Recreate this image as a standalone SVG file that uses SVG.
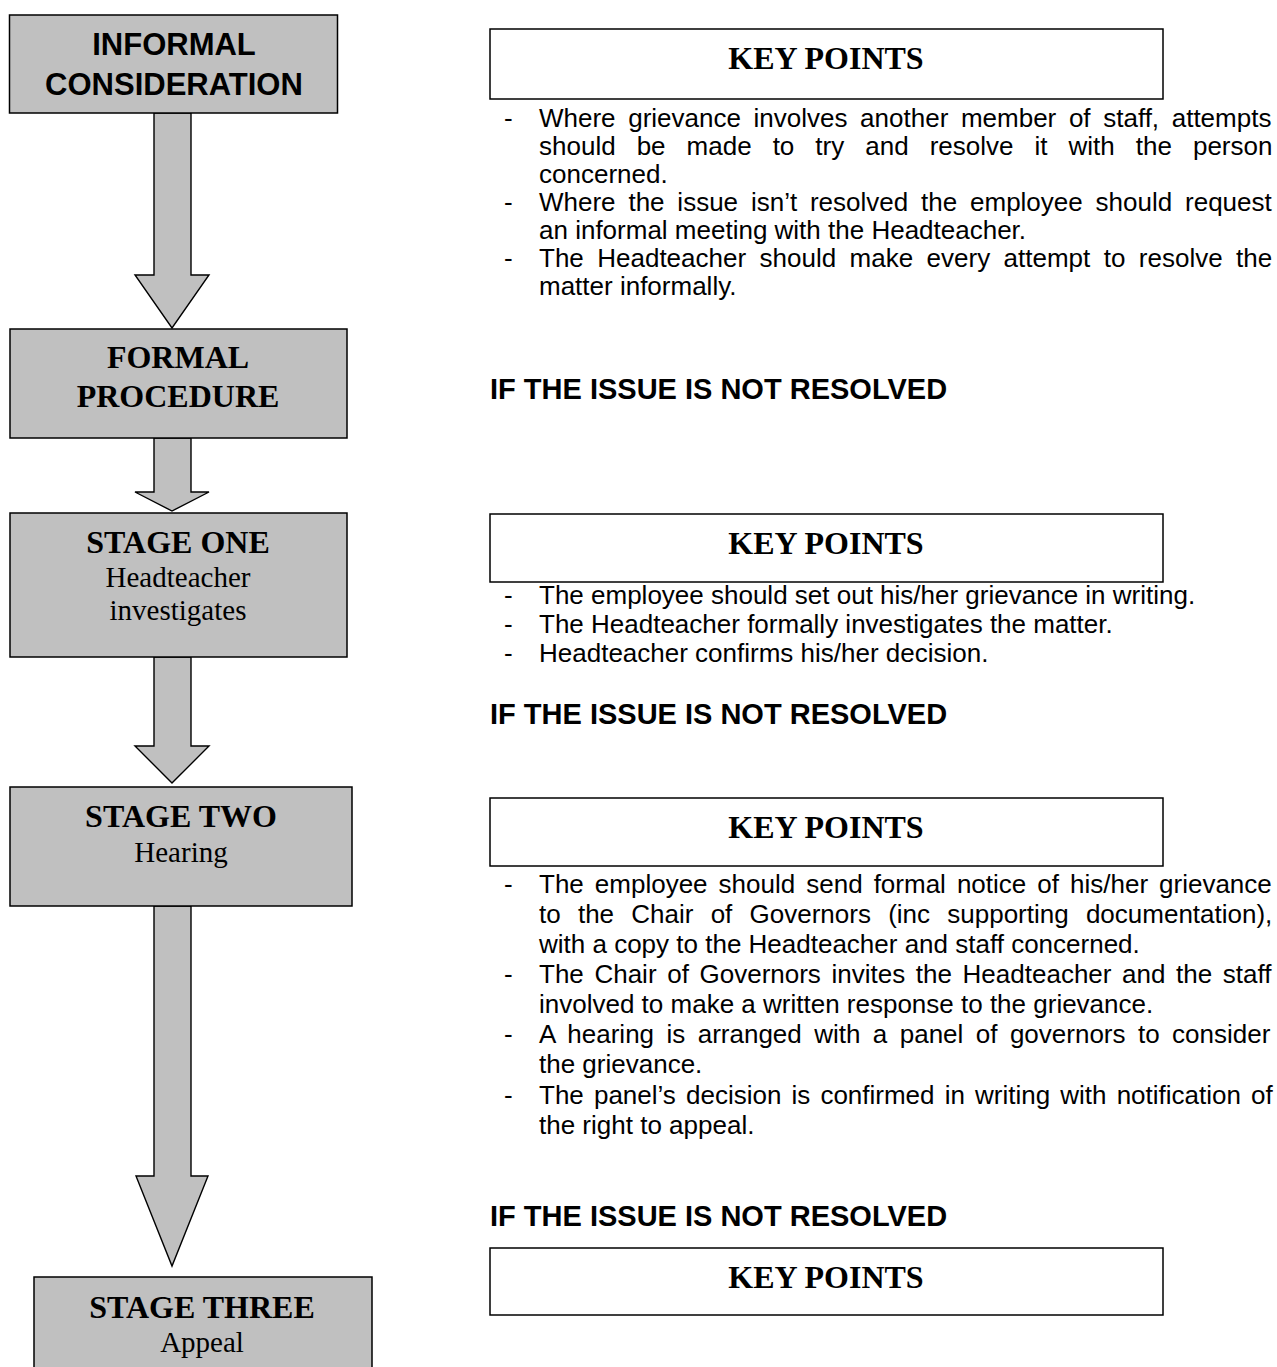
<svg xmlns="http://www.w3.org/2000/svg" width="1277" height="1367" viewBox="0 0 1277 1367">
<style>
.node{fill:#c0c0c0;stroke:#000;stroke-width:1.5}
.arrow{fill:#c0c0c0;stroke:#000;stroke-width:1.4;stroke-linejoin:miter}
.kbox{fill:#fff;stroke:#000;stroke-width:1.5}
.sans-b{font-family:"Liberation Sans",Arial,sans-serif;font-weight:bold;fill:#000}
.serif-b{font-family:"Liberation Serif","Times New Roman",serif;font-weight:bold;font-size:32px;fill:#000}
.serif{font-family:"Liberation Serif","Times New Roman",serif;font-size:29px;fill:#000}
.body{font-family:"Liberation Sans",Arial,sans-serif;font-size:26px;fill:#000}
.head{font-family:"Liberation Sans",Arial,sans-serif;font-weight:bold;font-size:29px;fill:#000}
.kp{font-family:"Liberation Serif","Times New Roman",serif;font-weight:bold;font-size:32px;fill:#000}
</style>
<rect width="1277" height="1367" fill="#fff"/>
<g id="connectors">
<path class="arrow" d="M154,113 V275 H135 L172,328 L209,275 H191 V113 Z"/>
<path class="arrow" d="M154,438 V492 H135 L172,511 L209,492 H191 V438 Z"/>
<path class="arrow" d="M154,657 V746 H135 L172,783 L209,746 H191 V657 Z"/>
<path class="arrow" d="M154,906 V1176 H136 L172,1266 L208,1176 H191 V906 Z"/>
</g>
<g id="informal">
<rect class="node" x="9.5" y="15" width="328" height="98"/>
<text class="sans-b" font-size="31" text-anchor="middle" x="174" y="55">INFORMAL</text>
<text class="sans-b" font-size="31" text-anchor="middle" x="174" y="95">CONSIDERATION</text>
</g>
<g id="formal">
<rect class="node" x="10" y="329" width="337" height="109"/>
<text class="serif-b" text-anchor="middle" x="178" y="368">FORMAL</text>
<text class="serif-b" text-anchor="middle" x="178" y="407">PROCEDURE</text>
</g>
<g id="stage1">
<rect class="node" x="10" y="513" width="337" height="144"/>
<text class="serif-b" text-anchor="middle" x="178" y="553">STAGE ONE</text>
<text class="serif" text-anchor="middle" x="178" y="587">Headteacher</text>
<text class="serif" text-anchor="middle" x="178" y="620">investigates</text>
</g>
<g id="stage2">
<rect class="node" x="10" y="787" width="342" height="119"/>
<text class="serif-b" text-anchor="middle" x="181" y="827">STAGE TWO</text>
<text class="serif" text-anchor="middle" x="181" y="862">Hearing</text>
</g>
<g id="stage3">
<rect class="node" x="34" y="1277" width="338" height="100"/>
<text class="serif-b" text-anchor="middle" x="202" y="1318">STAGE THREE</text>
<text class="serif" text-anchor="middle" x="202" y="1352">Appeal</text>
</g>
<g id="keypoints1">
<rect class="kbox" x="490" y="29" width="673" height="70"/>
<text class="kp" text-anchor="middle" x="826" y="69">KEY POINTS</text>
<g class="body">
<text x="504" y="127">-</text>
<text x="539" y="127" word-spacing="5.4">Where grievance involves another member of staff, attempts</text>
<text x="539" y="155" word-spacing="13.8">should be made to try and resolve it with the person</text>
<text x="539" y="183">concerned.</text>
<text x="504" y="211">-</text>
<text x="539" y="211" word-spacing="5.6">Where the issue isn’t resolved the employee should request</text>
<text x="539" y="239">an informal meeting with the Headteacher.</text>
<text x="504" y="267">-</text>
<text x="539" y="267" word-spacing="6.2">The Headteacher should make every attempt to resolve the</text>
<text x="539" y="295">matter informally.</text>
</g>
<text class="head" x="490" y="399">IF THE ISSUE IS NOT RESOLVED</text>
</g>
<g id="keypoints2">
<rect class="kbox" x="490" y="514" width="673" height="68"/>
<text class="kp" text-anchor="middle" x="826" y="554">KEY POINTS</text>
<g class="body">
<text x="504" y="604">-</text>
<text x="539" y="604">The employee should set out his/her grievance in writing.</text>
<text x="504" y="633">-</text>
<text x="539" y="633">The Headteacher formally investigates the matter.</text>
<text x="504" y="662">-</text>
<text x="539" y="662">Headteacher confirms his/her decision.</text>
</g>
<text class="head" x="490" y="724">IF THE ISSUE IS NOT RESOLVED</text>
</g>
<g id="keypoints3">
<rect class="kbox" x="490" y="798" width="673" height="68"/>
<text class="kp" text-anchor="middle" x="826" y="838">KEY POINTS</text>
<g class="body">
<text x="504" y="893">-</text>
<text x="539" y="893" word-spacing="3.8">The employee should send formal notice of his/her grievance</text>
<text x="539" y="923" word-spacing="10">to the Chair of Governors (inc supporting documentation),</text>
<text x="539" y="953">with a copy to the Headteacher and staff concerned.</text>
<text x="504" y="983">-</text>
<text x="539" y="983" word-spacing="3.4">The Chair of Governors invites the Headteacher and the staff</text>
<text x="539" y="1013">involved to make a written response to the grievance.</text>
<text x="504" y="1043">-</text>
<text x="539" y="1043" word-spacing="5.2">A hearing is arranged with a panel of governors to consider</text>
<text x="539" y="1073">the grievance.</text>
<text x="504" y="1104">-</text>
<text x="539" y="1104" word-spacing="2.9">The panel’s decision is confirmed in writing with notification of</text>
<text x="539" y="1134">the right to appeal.</text>
</g>
<text class="head" x="490" y="1226">IF THE ISSUE IS NOT RESOLVED</text>
</g>
<g id="keypoints4">
<rect class="kbox" x="490" y="1248" width="673" height="67"/>
<text class="kp" text-anchor="middle" x="826" y="1288">KEY POINTS</text>
</g>
</svg>
